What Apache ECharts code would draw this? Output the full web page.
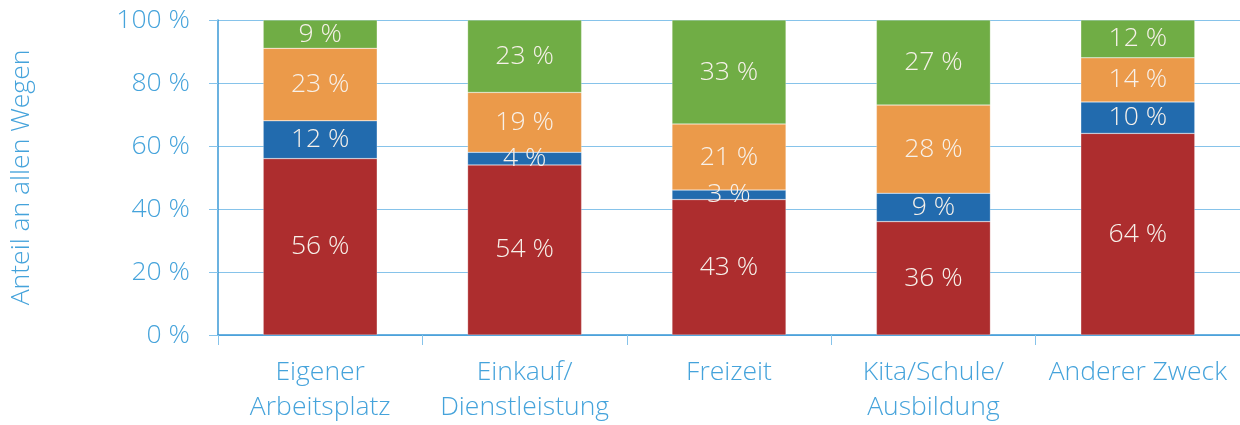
<!DOCTYPE html>
<html><head><meta charset="utf-8">
<script src="https://cdn.jsdelivr.net/npm/echarts@6/dist/echarts.min.js"></script>
<style>html,body{margin:0;padding:0;background:#fff}#c{width:1240px;height:425px}</style>
</head><body><div id="c"></div>
<script>
const categories = ['Eigener\nArbeitsplatz', 'Einkauf/\nDienstleistung', 'Freizeit', 'Kita/Schule/\nAusbildung', 'Anderer Zweck'];
const redValues = [56, 54, 43, 36, 64];
const blueValues = [12, 4, 3, 9, 10];
const orangeValues = [23, 19, 21, 28, 14];
const greenValues = [9, 23, 33, 27, 12];
const yTicks = [0, 20, 40, 60, 80, 100];
const yTitle = 'Anteil an allen Wegen';

const FONT = '"Open Sans", sans-serif';
const AXIS_BLUE = '#45a3db';
const GRID_BLUE = '#86c3ea';
const colors = ['#ad2d2e', '#226bae', '#eb9a4a', '#70ad45'];
const FS = 26.5;

function mkSeries(name, data, color) {
  return {
    name, type: 'bar', stack: 'all', data, barWidth: 114,
    itemStyle: { color, borderColor: 'rgba(255,255,255,0.5)', borderWidth: 0.5 },
    label: {
      show: true, position: 'inside', formatter: p => p.value + ' %',
      color: '#f7f1ea', fontFamily: FONT, fontWeight: 300, fontSize: FS
    }
  };
}

const chart = echarts.init(document.getElementById('c'), null, { renderer: 'canvas' });
chart.setOption({
  animation: false,
  grid: { left: 218, right: 0, top: 20, bottom: 90, containLabel: false, outerBoundsMode: 'none' },
  xAxis: {
    type: 'category', data: categories,
    axisLine: { show: true, lineStyle: { color: '#3a98d6', width: 1.5 } },
    axisTick: { show: true, length: 10, lineStyle: { color: GRID_BLUE } },
    axisLabel: { interval: 0, hideOverlap: false, color: AXIS_BLUE, fontFamily: FONT, fontWeight: 300, fontSize: FS, lineHeight: 35, margin: 20 }
  },
  yAxis: {
    type: 'value', min: yTicks[0], max: yTicks[yTicks.length - 1], interval: 20,
    name: yTitle, nameLocation: 'middle', nameGap: 183,
    nameTextStyle: { color: AXIS_BLUE, fontFamily: FONT, fontWeight: 300, fontSize: FS },
    axisLine: { show: true, lineStyle: { color: '#3a98d6', width: 1.5 } },
    axisTick: { show: true, length: 9, lineStyle: { color: GRID_BLUE } },
    splitLine: { show: true, lineStyle: { color: GRID_BLUE, width: 1 } },
    axisLabel: { color: AXIS_BLUE, fontFamily: FONT, fontWeight: 300, fontSize: FS, margin: 28, formatter: v => v + ' %' }
  },
  series: [
    mkSeries('Rot', redValues, colors[0]),
    mkSeries('Blau', blueValues, colors[1]),
    mkSeries('Orange', orangeValues, colors[2]),
    mkSeries('Grün', greenValues, colors[3])
  ]
});
</script></body></html>
